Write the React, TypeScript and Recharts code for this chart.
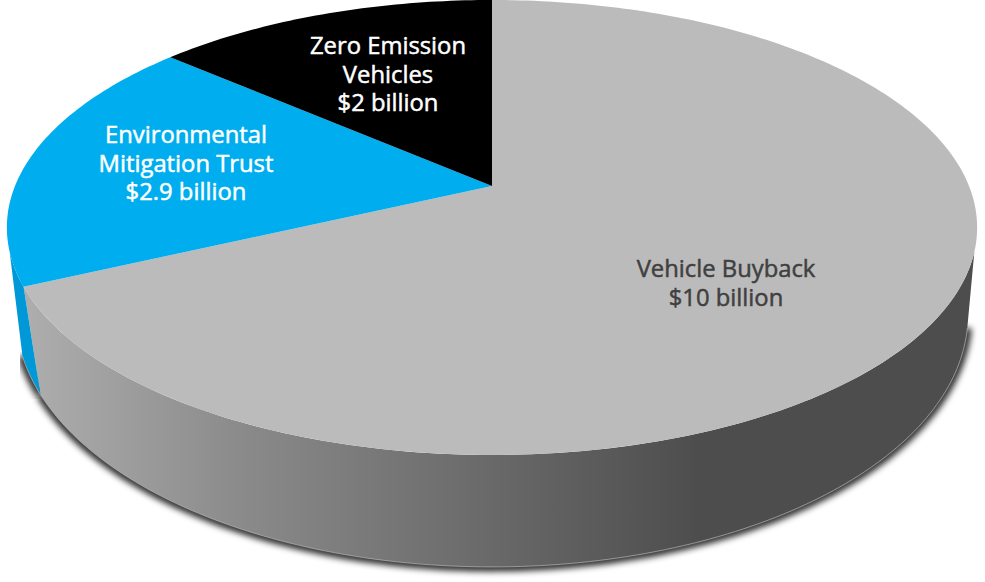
import { Pie, PieChart } from "recharts";

const sliceNames = ["Vehicle Buyback", "Environmental Mitigation Trust", "Zero Emission Vehicles"];
const sliceValues = [10.14, 2.73, 2.03];
const topColors = ["#bbbbbb", "#00aeef", "#000000"];
const wallColors = ["url(#wallGrey)", "#0098d6", "#000000"];
const labelLines = [
  ["Vehicle Buyback", "$10 billion"],
  ["Environmental", "Mitigation Trust", "$2.9 billion"],
  ["Zero Emission", "Vehicles", "$2 billion"],
];

const topData = sliceNames.map((name, i) => ({ name, value: sliceValues[i], fill: topColors[i] }));
const wallData = sliceNames.map((name, i) => ({ name, value: sliceValues[i], fill: wallColors[i] }));

// perspective of the tilted disc
const TILT = 0.1824;
const WALL_FROM = 106.5;
const WALL_TO = 253.5;
const WALL_TWIST = 3.1;
const labelPos = [
  { x: 726, y: 277, color: "#404040" },
  { x: 186, y: 143, color: "#ffffff" },
  { x: 388, y: 54, color: "#ffffff" },
];

const rad = (d: number) => (d * Math.PI) / 180;

function topRim(t: number, cx: number, cy: number, r: number) {
  const u = Math.sin(rad(t));
  const v = Math.cos(rad(t));
  const d = 1 + TILT * v;
  return [cx + (r * u) / d, (cy * (1 - v)) / d];
}

function bottomRim(t: number, cx: number, cy: number, r: number) {
  const u = Math.sin(rad(t - WALL_TWIST));
  const v = Math.cos(rad(t - WALL_TWIST));
  const d = 1 + TILT * v;
  return [cx + (r * 0.981 * u) / d, 63 + (cy * 1.1075 * (1 - v)) / d];
}

function walk(from: number, to: number, fn: (t: number) => number[]) {
  const pts: number[][] = [];
  const n = Math.max(2, Math.ceil(Math.abs(to - from)));
  for (let i = 0; i <= n; i++) pts.push(fn(from + ((to - from) * i) / n));
  return pts;
}

const toPath = (pts: number[][]) =>
  pts.map((p, i) => `${i ? "L" : "M"}${p[0].toFixed(2)} ${p[1].toFixed(2)}`).join(" ");

function TopSlice(props: any) {
  const { cx, cy, outerRadius, startAngle, endAngle, fill } = props;
  const rim = walk(90 - startAngle, 90 - endAngle, (t) => topRim(t, cx, cy, outerRadius));
  return <path d={`M${cx} ${cy} ${toPath(rim).replace("M", "L")} Z`} fill={fill} />;
}

function wallRange(props: any) {
  const from = Math.max(90 - props.startAngle, WALL_FROM);
  const to = Math.min(90 - props.endAngle, WALL_TO);
  return to > from ? [from, to] : null;
}

function WallSlice(props: any) {
  const { cx, cy, outerRadius, fill } = props;
  const range = wallRange(props);
  if (!range) return null;
  const upper = walk(range[0], range[1], (t) => topRim(t, cx, cy, outerRadius));
  const lower = walk(range[1], range[0], (t) => bottomRim(t, cx, cy, outerRadius));
  return (
    <g>
      <path d={`${toPath(upper)} ${toPath(lower).replace("M", "L")} Z`} fill={fill} />
      <path d={toPath(lower)} fill="none" stroke="#b5b5b5" strokeWidth={0.7} />
    </g>
  );
}

function ShadowSlice(props: any) {
  const { cx, cy, outerRadius } = props;
  const range = wallRange(props);
  if (!range) return null;
  const lower = walk(range[1], range[0], (t) => bottomRim(t, cx, cy, outerRadius));
  return <path d={toPath(lower)} fill="none" stroke="#000" strokeWidth={9} strokeOpacity={0.85} filter="url(#softShadow)" />;
}

function SliceLabel(props: any) {
  const pos = labelPos[props.index];
  return (
    <text
      x={pos.x}
      y={pos.y}
      textAnchor="middle"
      fill={pos.color}
      stroke={pos.color}
      strokeWidth={0.5}
      fontFamily="'Open Sans', sans-serif"
      fontSize={23.8}
    >
      {labelLines[props.index].map((line, i) => (
        <tspan key={line} x={pos.x} dy={i ? 28.5 : 0}>
          {line}
        </tspan>
      ))}
    </text>
  );
}

const pieProps = {
  dataKey: "value",
  nameKey: "name",
  cx: 492,
  cy: 186,
  innerRadius: 0,
  outerRadius: 477,
  startAngle: 90,
  endAngle: -270,
  stroke: "none",
  isAnimationActive: false,
  labelLine: false,
};

export default function App() {
  return (
    <div style={{ position: "absolute", left: 0, top: 0, width: 985, height: 582, background: "#fff" }}>
      <PieChart width={985} height={582} margin={{ top: 0, right: 0, bottom: 0, left: 0 }}>
        <defs>
          <linearGradient id="wallGrey" gradientUnits="userSpaceOnUse" x1={30} y1={0} x2={700} y2={0}>
            <stop offset="0" stopColor="#adadad" />
            <stop offset="0.32" stopColor="#8a8a8a" />
            <stop offset="0.7" stopColor="#686868" />
            <stop offset="1" stopColor="#4d4d4d" />
          </linearGradient>
          <filter id="softShadow" x="-10%" y="-10%" width="120%" height="120%">
            <feGaussianBlur stdDeviation={3} />
          </filter>
        </defs>
        <Pie {...pieProps} data={wallData} shape={ShadowSlice} />
        <Pie {...pieProps} data={wallData} shape={WallSlice} />
        <Pie {...pieProps} data={topData} shape={TopSlice} label={SliceLabel} />
      </PieChart>
    </div>
  );
}
